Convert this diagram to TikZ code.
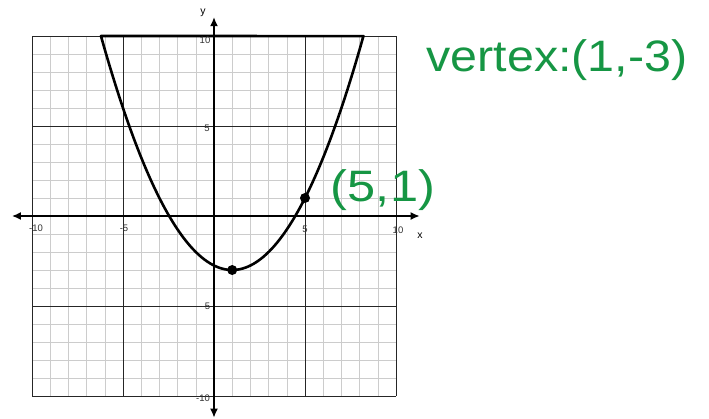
\documentclass[tikz,border=0pt]{standalone}
\usepackage{fontspec}
\setmainfont{Liberation Sans}
\usetikzlibrary{arrows.meta}
\definecolor{pen}{RGB}{22,150,68}
\begin{document}
\begin{tikzpicture}[x=1pt,y=-1pt,
  minor/.style={draw=gray!40, line width=0.6pt},
  major/.style={draw=black!85, line width=1pt},
  axisline/.style={line width=1.5pt, {Latex[length=9pt,width=8pt]}-{Latex[length=9pt,width=8pt]}},
  curve/.style={line width=2.6pt, line join=round},
  ticklab/.style={font=\fontsize{9.5}{10}\selectfont, text=black!80, inner sep=0pt},
  axlab/.style={font=\fontsize{10.5}{11}\selectfont, inner sep=0pt},
  hand/.style={text=pen, inner sep=0pt, font=\fontsize{44}{46}\selectfont},
  dot/.style={circle, fill=black, inner sep=0pt, minimum size=10pt}]
\useasboundingbox (0,0) rectangle (709,418);
\fill[white] (0,0) rectangle (709,418);
\begin{scope}[shift={(214,216)}, x=18.2pt, y=18pt]
  \foreach \i in {-9,...,9} {
    \draw[minor] (\i,-10) -- (\i,10);
    \draw[minor] (-10,\i) -- (10,\i);
  }
  \foreach \i in {-10,-5,5,10} {
    \draw[major] (\i,-10) -- (\i,10);
    \draw[major] (-10,\i) -- (10,\i);
  }
  \coordinate (xl) at (-11.1,0);
  \coordinate (xr) at (11.3,0);
  \coordinate (yt) at (0,11.05);
  \coordinate (yb) at (0,-11.2);
  \draw[axisline] (xl) -- (xr);
  \draw[axisline] (yb) -- (yt);
  \draw[curve] plot[domain=-6.211:8.211, samples=90, smooth] (\x, {(\x-1)^2/4-3}) -- cycle;
  \node[dot] (v) at (1,-3) {};
  \node[dot] (p) at (5,1) {};
\end{scope}
% tick labels
\node[ticklab] (t10) at (205,40) {10};
\node[ticklab] (t5) at (207,128) {5};
\node[ticklab] (tm5) at (206,306) {-5};
\node[ticklab] (tm10) at (203,398) {-10};
\node[ticklab] (xm10) at (36,228) {-10};
\node[ticklab] (xm5) at (124,228) {-5};
\node[ticklab] (x5) at (305,229) {5};
\node[ticklab] (x10) at (398,230) {10};
\node[axlab] (ylab) at (203,13) {y};
\node[axlab] (xlab) at (420,236) {x};
% handwritten notes
\node[hand] (vt) at (557,60) {\scalebox{1.1}[1]{vertex:(1,-3)}};
\node[hand] (pt) at (383,190) {\scalebox{1.15}[1]{(5,1)}};
\end{tikzpicture}
\end{document}
